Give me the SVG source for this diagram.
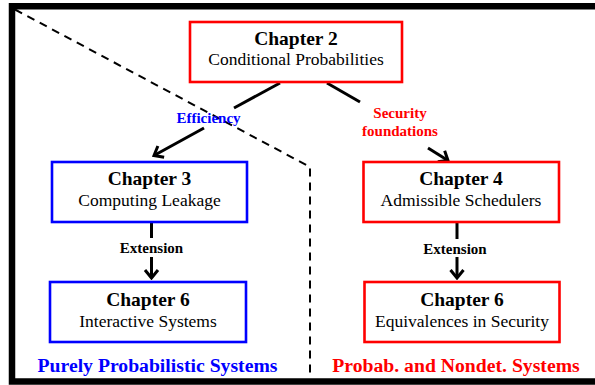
<svg xmlns="http://www.w3.org/2000/svg" width="595" height="385" viewBox="0 0 595 385">
<style>
.box{fill:#fff;stroke-width:2.6}
.red{stroke:#ff0000}
.blue{stroke:#0000ff}
.t{font-family:"Liberation Serif","Times New Roman",serif;font-weight:bold;font-size:19.5px;fill:#000;text-anchor:middle}
.s{font-family:"Liberation Serif","Times New Roman",serif;font-size:17.5px;fill:#000;text-anchor:middle}
.lbl{font-family:"Liberation Serif","Times New Roman",serif;font-weight:bold;font-size:15px;text-anchor:middle}
.reg{font-family:"Liberation Serif","Times New Roman",serif;font-weight:bold;font-size:19.7px;text-anchor:middle}
.edge{stroke:#000;stroke-width:3;fill:none}
</style>
<defs>
<marker id="arr" markerUnits="userSpaceOnUse" viewBox="-12 -9 14 18" refX="0" refY="0" markerWidth="14" markerHeight="18" orient="auto">
<path d="M-8,-6.5 L0,0 L-8,6.5" fill="none" stroke="#000" stroke-width="3"/>
</marker>
</defs>
<rect x="0" y="0" width="595" height="385" fill="#fff"/>
<g id="frame">
<path d="M595,6.3 H12 V381.5 H595" fill="none" stroke="#000" stroke-width="6.5"/>
<path d="M15,9.5 L310,167 L310,377" fill="none" stroke="#000" stroke-width="2" stroke-dasharray="8,6"/>
</g>
<g id="connectors">
<path class="edge" d="M280,83 L234,108"/>
<path class="edge" d="M204,128 L154,155.5" marker-end="url(#arr)"/>
<path class="edge" d="M327,83 L360,102"/>
<path class="edge" d="M428,148 L448,160.5" marker-end="url(#arr)"/>
<path class="edge" d="M151.5,222 V238"/>
<path class="edge" d="M151.5,257 V278" marker-end="url(#arr)"/>
<path class="edge" d="M457,222 V239"/>
<path class="edge" d="M457,257 V278" marker-end="url(#arr)"/>
<text class="lbl" x="208.5" y="123" fill="#0000ff">Efficiency</text>
<text class="lbl" x="400" y="118" fill="#ff0000">Security</text>
<text class="lbl" x="400" y="136" fill="#ff0000">foundations</text>
<text class="lbl" x="151.5" y="253" fill="#000">Extension</text>
<text class="lbl" x="455" y="254" fill="#000">Extension</text>
</g>
<g id="ch2">
<rect class="box red" x="190" y="22" width="212" height="60"/>
<text class="t" x="296" y="45">Chapter 2</text>
<text class="s" x="296" y="65">Conditional Probabilities</text>
</g>
<g id="ch3">
<rect class="box blue" x="52" y="162" width="195" height="60"/>
<text class="t" x="149.5" y="185">Chapter 3</text>
<text class="s" x="149.5" y="206">Computing Leakage</text>
</g>
<g id="ch6left">
<rect class="box blue" x="50" y="282" width="196" height="60"/>
<text class="t" x="148" y="306">Chapter 6</text>
<text class="s" x="148" y="327">Interactive Systems</text>
</g>
<g id="ch4">
<rect class="box red" x="363.5" y="162" width="195.5" height="60"/>
<text class="t" x="461" y="185">Chapter 4</text>
<text class="s" x="461" y="206">Admissible Schedulers</text>
</g>
<g id="ch6right">
<rect class="box red" x="364.5" y="282" width="195" height="60"/>
<text class="t" x="462" y="306">Chapter 6</text>
<text class="s" x="462" y="327">Equivalences in Security</text>
</g>
<g id="regions">
<text class="reg" x="157.5" y="372" fill="#0000ff">Purely Probabilistic Systems</text>
<text class="reg" x="456" y="372" fill="#ff0000">Probab. and Nondet. Systems</text>
</g>
</svg>
